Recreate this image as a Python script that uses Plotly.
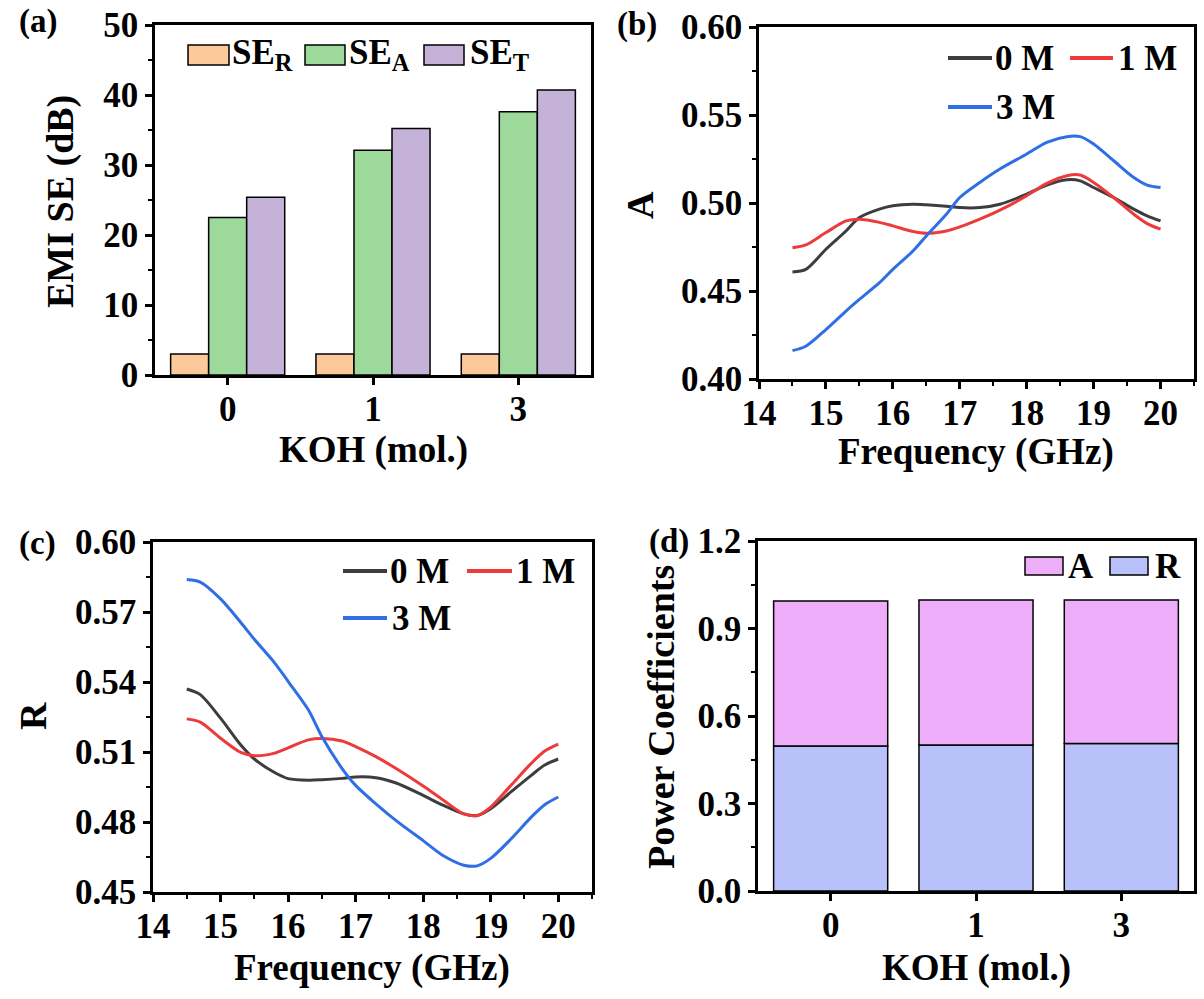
import plotly.graph_objects as go

W, H = 1204, 999

# ---------------- data ----------------
koh = ["0", "1", "3"]

se_r = [3.0, 3.0, 3.0]
se_a = [22.5, 32.1, 37.6]
se_t = [25.4, 35.2, 40.7]

freq = [14.5, 14.7, 15.0, 15.3, 15.5, 15.8, 16.0, 16.3, 16.5, 16.8, 17.0,
        17.3, 17.6, 18.0, 18.3, 18.6, 18.8, 19.0, 19.3, 19.6, 19.8, 20.0]

a_0m = [0.4608, 0.4623, 0.4737, 0.4841, 0.4917, 0.4965, 0.4984, 0.4993, 0.4990, 0.4982, 0.4974,
        0.4974, 0.4993, 0.5050, 0.5102, 0.5132, 0.5126, 0.5088, 0.5031, 0.4965, 0.4927, 0.4898]
a_1m = [0.4746, 0.4762, 0.4832, 0.4898, 0.4908, 0.4890, 0.4870, 0.4838, 0.4828, 0.4841, 0.4864,
        0.4908, 0.4959, 0.5041, 0.5111, 0.5155, 0.5159, 0.5117, 0.5031, 0.4936, 0.4883, 0.4851]
a_3m = [0.4161, 0.4186, 0.4281, 0.4386, 0.4452, 0.4547, 0.4623, 0.4727, 0.4813, 0.4936, 0.5031,
        0.5117, 0.5193, 0.5278, 0.5345, 0.5377, 0.5377, 0.5335, 0.5240, 0.5145, 0.5102, 0.5088]

r_0m = [0.5370, 0.5346, 0.5245, 0.5130, 0.5070, 0.5012, 0.4986, 0.4979, 0.4981, 0.4987, 0.4993,
        0.4990, 0.4967, 0.4914, 0.4871, 0.4835, 0.4828, 0.4857, 0.4929, 0.5000, 0.5044, 0.5070]
r_1m = [0.5242, 0.5228, 0.5159, 0.5098, 0.5084, 0.5095, 0.5118, 0.5152, 0.5158, 0.5147, 0.5123,
        0.5080, 0.5029, 0.4954, 0.4893, 0.4835, 0.4828, 0.4864, 0.4957, 0.5051, 0.5104, 0.5134]
r_3m = [0.5839, 0.5828, 0.5756, 0.5655, 0.5583, 0.5482, 0.5403, 0.5281, 0.5166, 0.5029, 0.4957,
        0.4878, 0.4806, 0.4720, 0.4655, 0.4615, 0.4612, 0.4644, 0.4727, 0.4821, 0.4874, 0.4907]

coef_r = [0.497, 0.501, 0.506]
coef_a = [0.497, 0.497, 0.492]

series_labels = ["0 M", "1 M", "3 M"]

# ---------------- style ----------------
FONT = "Liberation Serif"
C_SER, C_SEA, C_SET = "#FBC99A", "#9ED99C", "#C4B2D8"
C_A, C_R = "#EDADF9", "#B8C1FA"
LINE_COLORS = ["#3D3D3D", "#EE3A3A", "#2F6FE5"]
OUTLINE = dict(color="black", width=1.5)
TICK_SIZE = 35
KEY_SIZE = 35


def px(x):
    return x / W


def py(y):
    return 1 - y / H


def tfont(size):
    return dict(family=FONT, size=size, color="black", weight="bold")


def axis(domain, anchor, **kw):
    d = dict(domain=domain, anchor=anchor, automargin=False, showline=True, linewidth=2.5,
             linecolor="black", mirror=True, ticks="outside", ticklen=7, tickwidth=2.5,
             tickcolor="black", tickfont=tfont(TICK_SIZE), showgrid=False, zeroline=False,
             fixedrange=True)
    d.update(kw)
    return d


def minor(step):
    return dict(ticks="outside", ticklen=4, tickwidth=2, tickcolor="black", dtick=step, showgrid=False)


fig = go.Figure()

# (a) shielding effectiveness bars
for name, vals, col in [("SE<sub>R</sub>", se_r, C_SER), ("SE<sub>A</sub>", se_a, C_SEA),
                        ("SE<sub>T</sub>", se_t, C_SET)]:
    fig.add_trace(go.Bar(x=koh, y=vals, name=name, marker=dict(color=col, line=OUTLINE),
                         xaxis="x", yaxis="y", showlegend=False))

# (b) absorption coefficient curves
for lab, vals, col in zip(series_labels, [a_0m, a_1m, a_3m], LINE_COLORS):
    fig.add_trace(go.Scatter(x=freq, y=vals, mode="lines", name=lab,
                             line=dict(color=col, width=3, shape="spline", smoothing=0.8),
                             xaxis="x2", yaxis="y2", showlegend=False))

# (c) reflection coefficient curves
for lab, vals, col in zip(series_labels, [r_0m, r_1m, r_3m], LINE_COLORS):
    fig.add_trace(go.Scatter(x=freq, y=vals, mode="lines", name=lab,
                             line=dict(color=col, width=3, shape="spline", smoothing=0.8),
                             xaxis="x3", yaxis="y3", showlegend=False))

# (d) stacked power coefficients
fig.add_trace(go.Bar(x=koh, y=coef_r, name="R", offsetgroup="pc",
                     marker=dict(color=C_R, line=OUTLINE), xaxis="x4", yaxis="y4", showlegend=False))
fig.add_trace(go.Bar(x=koh, y=coef_a, base=coef_r, name="A", offsetgroup="pc",
                     marker=dict(color=C_A, line=OUTLINE), xaxis="x4", yaxis="y4", showlegend=False))

# panel placement (pixel edges of each plotting area)
dom_a = ([px(155), px(591)], [py(375), py(25)])
dom_b = ([px(759), px(1194)], [py(379), py(27)])
dom_c = ([px(153), px(592)], [py(892), py(542)])
dom_d = ([px(758), px(1194)], [py(891), py(541)])

XSTAND = -6

fig.update_layout(
    template="none",
    width=W, height=H, margin=dict(l=0, r=0, t=0, b=0, autoexpand=False),
    paper_bgcolor="white", plot_bgcolor="white", showlegend=False,
    barmode="group", bargap=0.215, bargroupgap=0,
    xaxis=axis(dom_a[0], "y", type="category", ticklabelstandoff=XSTAND),
    yaxis=axis(dom_a[1], "x", range=[0, 50], dtick=10, minor=minor(5)),
    xaxis2=axis(dom_b[0], "y2", range=[14, 20.5], dtick=1, tick0=14, minor=minor(0.5),
                ticklabelstandoff=XSTAND),
    yaxis2=axis(dom_b[1], "x2", range=[0.40, 0.60], dtick=0.05, tick0=0.4, tickformat=".2f",
                minor=minor(0.025)),
    xaxis3=axis(dom_c[0], "y3", range=[14, 20.5], dtick=1, tick0=14, minor=minor(0.5),
                ticklabelstandoff=XSTAND),
    yaxis3=axis(dom_c[1], "x3", range=[0.45, 0.60], dtick=0.03, tick0=0.45, tickformat=".2f",
                minor=minor(0.015)),
    xaxis4=axis(dom_d[0], "y4", type="category", ticklabelstandoff=XSTAND),
    yaxis4=axis(dom_d[1], "x4", range=[0, 1.2], dtick=0.3, tick0=0, tickformat=".1f",
                minor=minor(0.15)),
)

ann = []
shapes = []


def text(x, y, s, size, xanchor="center", angle=0):
    ann.append(dict(x=px(x), y=py(y), xref="paper", yref="paper", text=s, showarrow=False,
                    font=tfont(size), xanchor=xanchor, yanchor="middle", textangle=angle))


# panel letters
text(38, 22, "(a)", 33)
text(637, 24, "(b)", 33)
text(37, 543, "(c)", 33)
text(669, 541, "(d)", 33)

# axis titles
text(373, 450, "KOH (mol.)", 37)
text(60, 202, "EMI SE (dB)", 38, angle=-90)
text(976, 452, "Frequency (GHz)", 37)
text(640, 205, "A", 38, angle=-90)
text(372, 968, "Frequency (GHz)", 37)
text(33, 716, "R", 38, angle=-90)
text(976, 968, "KOH (mol.)", 37)
text(661, 717, "Power Coefficients", 38, angle=-90)


def swatch(x0, x1, y0, y1, col):
    shapes.append(dict(type="rect", xref="paper", yref="paper", x0=px(x0), x1=px(x1),
                       y0=py(y1), y1=py(y0), fillcolor=col, line=dict(color="black", width=1.5)))


def keyline(x0, x1, y, col):
    shapes.append(dict(type="line", xref="paper", yref="paper", x0=px(x0), x1=px(x1),
                       y0=py(y), y1=py(y), line=dict(color=col, width=4)))


# legend (a)
swatch(188, 229, 45, 65, C_SER)
text(230, 55, "SE<sub>R</sub>", KEY_SIZE, xanchor="left")
swatch(305, 345, 45, 65, C_SEA)
text(347, 55, "SE<sub>A</sub>", KEY_SIZE, xanchor="left")
swatch(424, 464, 45, 65, C_SET)
text(468, 55, "SE<sub>T</sub>", KEY_SIZE, xanchor="left")

# legend (b)
keyline(948, 992, 58, LINE_COLORS[0])
text(993, 58, series_labels[0], KEY_SIZE, xanchor="left")
keyline(1070, 1113, 58, LINE_COLORS[1])
text(1116, 58, series_labels[1], KEY_SIZE, xanchor="left")
keyline(948, 992, 107, LINE_COLORS[2])
text(994, 107, series_labels[2], KEY_SIZE, xanchor="left")

# legend (c)
keyline(343, 387, 571, LINE_COLORS[0])
text(388, 571, series_labels[0], KEY_SIZE, xanchor="left")
keyline(467, 512, 571, LINE_COLORS[1])
text(514, 571, series_labels[1], KEY_SIZE, xanchor="left")
keyline(343, 387, 618, LINE_COLORS[2])
text(390, 618, series_labels[2], KEY_SIZE, xanchor="left")

# legend (d)
swatch(1025, 1063, 557, 575, C_A)
text(1066, 566, "A", KEY_SIZE, xanchor="left")
swatch(1110, 1148, 557, 575, C_R)
text(1153, 566, "R", KEY_SIZE, xanchor="left")

fig.update_layout(annotations=ann, shapes=shapes)

fig.write_html("out.html")
